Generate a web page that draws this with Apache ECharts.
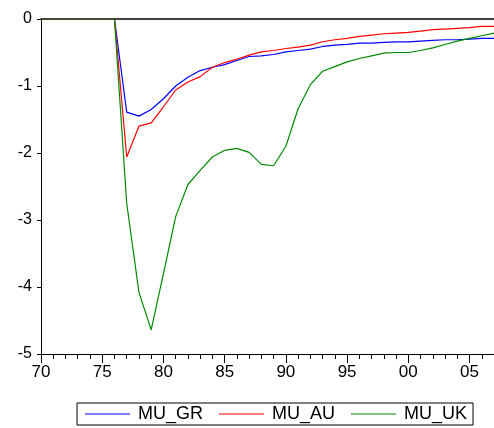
<!DOCTYPE html>
<html>
<head>
<meta charset="utf-8">
<script src="https://cdn.jsdelivr.net/npm/echarts@6/dist/echarts.min.js"></script>
<style>
html,body{margin:0;padding:0;background:#fff;}
#c{width:494px;height:428px;}
</style>
</head>
<body>
<div id="c"></div>
<script>
var years = [1970,1971,1972,1973,1974,1975,1976,1977,1978,1979,1980,1981,1982,1983,1984,1985,1986,1987,1988,1989,1990,1991,1992,1993,1994,1995,1996,1997,1998,1999,2000,2001,2002,2003,2004,2005,2006,2007];
var muGR = [0,0,0,0,0,0,0,-1.39,-1.45,-1.35,-1.19,-1.00,-0.87,-0.77,-0.72,-0.68,-0.62,-0.56,-0.55,-0.53,-0.49,-0.47,-0.45,-0.41,-0.39,-0.38,-0.36,-0.36,-0.35,-0.34,-0.34,-0.33,-0.32,-0.31,-0.31,-0.30,-0.29,-0.29];
var muAU = [0,0,0,0,0,0,0,-2.06,-1.60,-1.55,-1.31,-1.06,-0.94,-0.86,-0.72,-0.65,-0.60,-0.54,-0.49,-0.47,-0.44,-0.42,-0.39,-0.34,-0.31,-0.29,-0.26,-0.24,-0.22,-0.21,-0.20,-0.18,-0.16,-0.15,-0.14,-0.13,-0.11,-0.11];
var muUK = [0,0,0,0,0,0,0,-2.75,-4.08,-4.64,-3.80,-2.95,-2.47,-2.26,-2.06,-1.96,-1.93,-1.99,-2.17,-2.19,-1.90,-1.34,-0.98,-0.78,-0.71,-0.64,-0.59,-0.55,-0.51,-0.50,-0.50,-0.47,-0.43,-0.38,-0.33,-0.29,-0.25,-0.21];
var seriesNames = ['MU_GR','MU_AU','MU_UK'];
var seriesColors = ['#0000ff','#ff0000','#008a00'];

function pairs(vals){ return years.map(function(y,i){ return [y, vals[i]]; }); }
var font = 'Liberation Sans, Arial, sans-serif';
var chart = echarts.init(document.getElementById('c'), null, {renderer:'canvas'});
var allVals = [muGR, muAU, muUK];
var lineIcon = 'path://M0,0 L45,0 L45,1 L0,1 Z';
chart.setOption({
  animation:false,
  backgroundColor:'#fff',
  grid:{left:41, right:0, top:19, bottom:74, show:false, outerBoundsMode:'none', containLabel:false},
  legend:{
    left:77, top:403,
    data:seriesNames.map(function(n){ return {name:n, icon:lineIcon}; }),
    itemWidth:45, itemHeight:1, itemGap:16,
    borderColor:'#000', borderWidth:1, borderRadius:0,
    padding:[2,6,2,8],
    textStyle:{fontFamily:font, fontSize:18, color:'#000', padding:[0,0,0,3]}
  },
  xAxis:[{
    type:'value', min:1970, max:2007, interval:5,
    axisLine:{show:true, onZero:false, lineStyle:{color:'#000', width:1}},
    axisTick:{show:true, length:9, inside:false, lineStyle:{color:'#000'}},
    minorTick:{show:true, splitNumber:5, length:5, lineStyle:{color:'#000'}},
    splitLine:{show:false},
    axisLabel:{
      fontFamily:font, fontSize:17, color:'#000', margin:10,
      formatter:function(v){ if (v % 5 !== 0) return ''; var s = String(v % 100); return s.length < 2 ? '0'+s : s; }
    }
  },{
    type:'value', position:'top', min:1970, max:2007, interval:5,
    axisLine:{show:true, onZero:false, lineStyle:{color:'#000', width:1.5}},
    axisTick:{show:false}, axisLabel:{show:false}, splitLine:{show:false}
  }],
  yAxis:{
    type:'value', min:-5, max:0, interval:1,
    axisLine:{show:true, onZero:false, lineStyle:{color:'#000', width:1}},
    axisTick:{show:true, length:4, lineStyle:{color:'#000'}},
    splitLine:{show:false},
    axisLabel:{fontFamily:font, fontSize:16, color:'#000', margin:9}
  },
  series: seriesNames.map(function(n,i){
    return {
      name:n, type:'line', data:pairs(allVals[i]), symbol:'none', xAxisIndex:0,
      lineStyle:{color:seriesColors[i], width:1.2}, itemStyle:{color:seriesColors[i]}
    };
  })
});
</script>
</body>
</html>
